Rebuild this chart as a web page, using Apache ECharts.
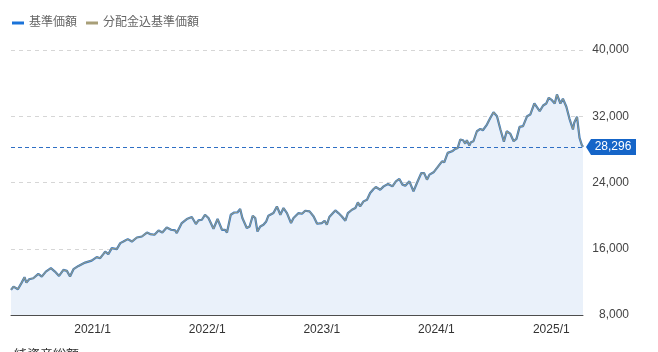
<!DOCTYPE html>
<html>
<head>
<meta charset="utf-8">
<script src="https://cdn.jsdelivr.net/npm/echarts@6/dist/echarts.min.js"></script>
<style>
  html, body { margin: 0; padding: 0; background: #fff; }
  #chart { width: 658px; height: 352px; }
</style>
</head>
<body>
<div id="chart"></div>
<script>
const seriesNames = ['基準価額', '分配金込基準価額'];

const dates = [
  '2020-04-16','2020-04-24','2020-05-08','2020-05-20','2020-05-29','2020-06-04','2020-06-13','2020-06-26','2020-07-12','2020-07-23','2020-08-05','2020-08-21','2020-09-03','2020-09-16','2020-09-30','2020-10-11','2020-10-21','2020-11-01','2020-11-17','2020-12-08','2020-12-29',
  '2021-01-14','2021-01-25','2021-02-04','2021-02-10','2021-02-20','2021-03-03','2021-03-19','2021-03-30','2021-04-09','2021-04-23','2021-05-06','2021-05-22','2021-06-07','2021-06-23','2021-07-03','2021-07-17','2021-07-30','2021-08-11','2021-08-25','2021-09-08','2021-09-21','2021-09-26','2021-10-12','2021-10-28','2021-11-13','2021-11-26','2021-12-04','2021-12-15','2021-12-25',
  '2022-01-05','2022-01-21','2022-02-03','2022-02-17','2022-02-27','2022-03-05','2022-03-17','2022-03-28','2022-04-07','2022-04-16','2022-04-23','2022-05-07','2022-05-16','2022-05-26','2022-06-03','2022-06-10','2022-06-19','2022-06-29','2022-07-08','2022-07-15','2022-07-31','2022-08-11','2022-08-22','2022-09-01','2022-09-12','2022-09-25','2022-10-03','2022-10-19','2022-10-30','2022-11-09','2022-11-23','2022-12-06','2022-12-17',
  '2023-01-01','2023-01-10','2023-01-17','2023-01-25','2023-02-07','2023-02-13','2023-02-23','2023-03-06','2023-03-17','2023-03-25','2023-04-07','2023-04-18','2023-04-26','2023-05-03','2023-05-14','2023-05-25','2023-06-04','2023-06-15','2023-06-22','2023-07-06','2023-07-17','2023-07-31','2023-08-14','2023-08-25','2023-09-05','2023-09-15','2023-09-24','2023-10-07','2023-10-20','2023-10-31','2023-11-14','2023-11-23','2023-12-02','2023-12-10','2023-12-23',
  '2024-01-03','2024-01-19','2024-01-26','2024-02-06','2024-02-20','2024-03-01','2024-03-09','2024-03-17','2024-03-26','2024-04-02','2024-04-07','2024-04-15','2024-04-20','2024-04-28','2024-05-09','2024-05-20','2024-05-28','2024-06-10','2024-06-21','2024-07-01','2024-07-12','2024-07-23','2024-08-03','2024-08-12','2024-08-23','2024-09-03','2024-09-12','2024-09-22','2024-10-03','2024-10-16','2024-10-26','2024-11-08','2024-11-25','2024-12-06','2024-12-16','2024-12-24',
  '2025-01-03','2025-01-12','2025-01-19','2025-01-30','2025-02-07','2025-02-18','2025-02-28','2025-03-11','2025-03-15','2025-03-24','2025-04-01','2025-04-08','2025-04-12'
];

// 基準価額 (円)
const navValues = [
  11030, 11430, 11110, 11910, 12560, 11910, 12320, 12440, 12960, 12640, 13240, 13650, 13240, 12720, 13450, 13330, 12640, 13530, 13930, 14330, 14570,
  14990, 14860, 15350, 15660, 15350, 16070, 15950, 16680, 16870, 17160, 16870, 17360, 17480, 17960, 17770, 17690, 18210, 17960, 18570, 18290, 18210, 17890, 19100, 19590, 19830, 18980, 19420, 19500, 20110,
  19710, 18410, 19590, 18290, 18290, 17960, 20110, 20380, 20380, 20800, 19710, 18500, 18690, 19990, 19710, 18080, 18690, 18900, 19300, 19990, 20310, 21110, 20110, 20920, 20310, 19100, 19710, 20310, 20230, 20590, 20510, 19900, 19020,
  19100, 19380, 18900, 19830, 20380, 20630, 20310, 19900, 19380, 20310, 20710, 20920, 21600, 21110, 21720, 21920, 22730, 23220, 23460, 23130, 23530, 23820, 23530, 24140, 24430, 23740, 23620, 24140, 22930, 23940, 25150, 25130, 24340, 24950, 25230,
  25760, 26560, 26440, 27580, 27770, 28060, 28180, 29190, 29100, 28700, 29100, 28460, 28860, 28980, 30190, 30480, 30310, 31000, 31810, 32490, 32010, 30400, 28940, 30190, 29910, 28980, 29270, 30720, 30800, 32010, 32210, 33540, 32610, 33300, 33540, 34230,
  33940, 33540, 34630, 33540, 34110, 33140, 31690, 30400, 31210, 31930, 29390, 28550, 28296
];

// 分配金込基準価額 (no distributions paid, the line sits on top of 基準価額)
const navWithDivValues = [
  11030, 11430, 11110, 11910, 12560, 11910, 12320, 12440, 12960, 12640, 13240, 13650, 13240, 12720, 13450, 13330, 12640, 13530, 13930, 14330, 14570,
  14990, 14860, 15350, 15660, 15350, 16070, 15950, 16680, 16870, 17160, 16870, 17360, 17480, 17960, 17770, 17690, 18210, 17960, 18570, 18290, 18210, 17890, 19100, 19590, 19830, 18980, 19420, 19500, 20110,
  19710, 18410, 19590, 18290, 18290, 17960, 20110, 20380, 20380, 20800, 19710, 18500, 18690, 19990, 19710, 18080, 18690, 18900, 19300, 19990, 20310, 21110, 20110, 20920, 20310, 19100, 19710, 20310, 20230, 20590, 20510, 19900, 19020,
  19100, 19380, 18900, 19830, 20380, 20630, 20310, 19900, 19380, 20310, 20710, 20920, 21600, 21110, 21720, 21920, 22730, 23220, 23460, 23130, 23530, 23820, 23530, 24140, 24430, 23740, 23620, 24140, 22930, 23940, 25150, 25130, 24340, 24950, 25230,
  25760, 26560, 26440, 27580, 27770, 28060, 28180, 29190, 29100, 28700, 29100, 28460, 28860, 28980, 30190, 30480, 30310, 31000, 31810, 32490, 32010, 30400, 28940, 30190, 29910, 28980, 29270, 30720, 30800, 32010, 32210, 33540, 32610, 33300, 33540, 34230,
  33940, 33540, 34630, 33540, 34110, 33140, 31690, 30400, 31210, 31930, 29390, 28550, 28296
];

const yTicks = { min: 8000, max: 40000, interval: 8000 };
const nextTitle = '純資産総額';

const fmt = (v) => Number(v).toLocaleString('en-US');
const fontFamily = "'Helvetica Neue', Arial, 'Liberation Sans', 'Noto Sans CJK JP', sans-serif";

const lastDate = dates[dates.length - 1];
const lastValue = navValues[navValues.length - 1];

const chart = echarts.init(document.getElementById('chart'));

chart.setOption({
  animation: false,
  textStyle: { fontFamily },
  title: {
    text: nextTitle,
    left: 9,
    top: 344,
    textStyle: { fontSize: 13, fontWeight: 'normal', color: '#333', fontFamily }
  },
  legend: {
    left: 7,
    top: 12,
    icon: 'rect',
    itemWidth: 12,
    itemHeight: 3,
    itemGap: 9,
    textStyle: { color: '#666', fontSize: 12, fontFamily },
    data: seriesNames
  },
  grid: { left: 11, right: 75, top: 50, bottom: 37, containLabel: false },
  xAxis: {
    type: 'time',
    min: dates[0],
    max: lastDate,
    splitNumber: 5,
    minInterval: 365 * 24 * 3600 * 1000,
    axisLine: { lineStyle: { color: '#4d4d4d', width: 1 } },
    axisTick: { show: false },
    splitLine: { show: false },
    axisLabel: {
      color: '#333',
      fontSize: 12,
      margin: 9,
      showMinLabel: false,
      showMaxLabel: false,
      formatter: (v) => {
        const d = new Date(v);
        return d.getFullYear() + '/' + (d.getMonth() + 1);
      }
    }
  },
  yAxis: {
    type: 'value',
    position: 'right',
    min: yTicks.min,
    max: yTicks.max,
    interval: yTicks.interval,
    axisLine: { show: false },
    axisTick: { show: false },
    splitLine: { lineStyle: { color: '#d6d6d6', type: [4, 4] } },
    axisLabel: { color: '#444', fontSize: 12, align: 'right', margin: 46, formatter: fmt }
  },
  series: [
    {
      name: seriesNames[0],
      type: 'line',
      data: dates.map((d, i) => [d, navValues[i]]),
      symbol: 'none',
      lineStyle: { color: '#3579c6', width: 2.2 },
      itemStyle: { color: '#1a73d9' },
      areaStyle: { color: '#eaf1fa', opacity: 1 },
      markLine: {
        silent: true,
        symbol: 'none',
        label: { show: false },
        lineStyle: { color: '#2f6fc4', type: [4, 3], width: 1 },
        data: [{ yAxis: lastValue }]
      },
      markPoint: {
        silent: true,
        symbol: 'path://M0,8 L5,0 L50,0 L50,16 L5,16 Z',
        symbolSize: [50, 16],
        symbolKeepAspect: false,
        symbolOffset: [28, 0],
        itemStyle: { color: '#1565c8' },
        label: {
          show: true,
          position: 'inside',
          offset: [2, 0],
          color: '#fff',
          fontSize: 12,
          fontFamily,
          formatter: (p) => fmt(p.value)
        },
        data: [{ coord: [lastDate, lastValue], value: lastValue }]
      },
      z: 2
    },
    {
      name: seriesNames[1],
      type: 'line',
      data: dates.map((d, i) => [d, navWithDivValues[i]]),
      symbol: 'none',
      lineStyle: { color: '#a89f78', width: 1.1, opacity: 0.8 },
      itemStyle: { color: '#a89f78' },
      z: 3
    }
  ]
});
</script>
</body>
</html>
